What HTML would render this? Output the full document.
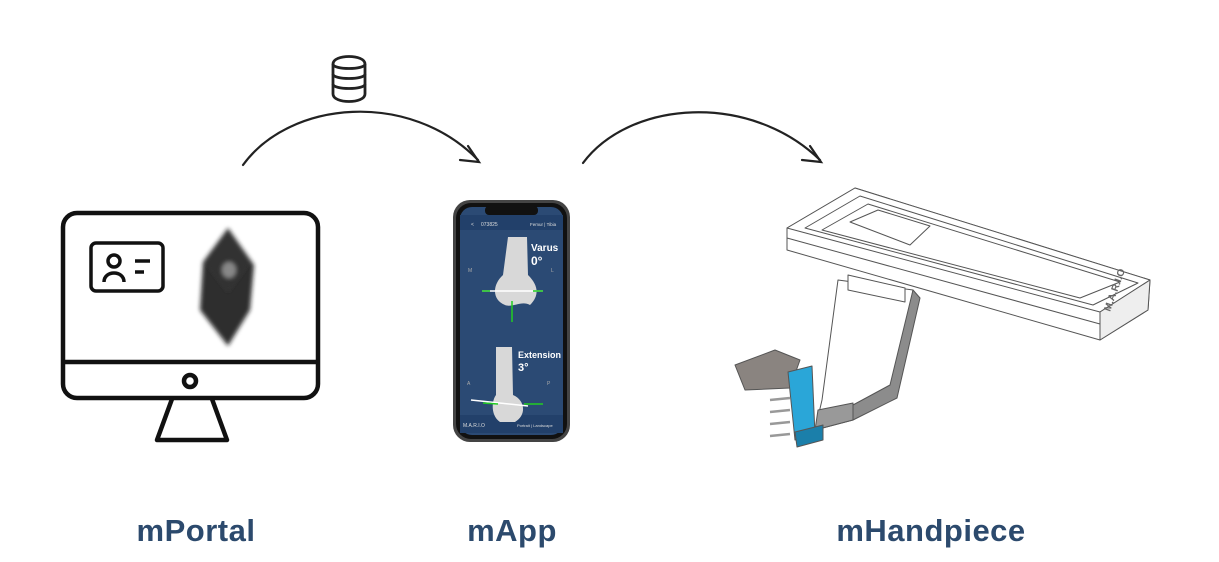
<!DOCTYPE html>
<html><head><meta charset="utf-8"><style>
html,body{margin:0;padding:0;background:#fff;}
body{width:1219px;height:562px;position:relative;overflow:hidden;font-family:"Liberation Sans",sans-serif;}
.lbl{position:absolute;top:513px;font-size:31px;font-weight:bold;color:#2c4a6d;letter-spacing:0.5px;transform:translateX(-50%);white-space:nowrap;}
</style></head><body>
<svg width="1219" height="562" style="position:absolute;left:0;top:0">
<defs>
<filter id="bl"><feGaussianBlur stdDeviation="2"/></filter>
</defs>
<g fill="none" stroke="#222" stroke-width="2.2" stroke-linecap="round">
<path d="M243,165 C290,100 410,90 478,160"/>
<path d="M468,146 L479,162 L460,160"/>
<path d="M583,163 C630,100 750,92 820,160"/>
<path d="M810,146 L821,162 L802,160"/>
</g>
<g fill="#fff" stroke="#222" stroke-width="2.8">
<path d="M333,64 C333,54 365,54 365,64 L365,94 C365,104 333,104 333,94 Z"/>
<path d="M333,74 C333,80 365,80 365,74" fill="none"/>
<path d="M333,84 C333,90 365,90 365,84" fill="none"/>
<path d="M333,64 C333,70 365,70 365,64" fill="none"/>
</g>
<g fill="none" stroke="#111" stroke-width="4.5" stroke-linejoin="round">
<rect x="63" y="213" width="255" height="185" rx="14"/>
<line x1="63" y1="362" x2="318" y2="362"/>
<circle cx="190" cy="381" r="6"/>
<path d="M172,399 L157,440 L227,440 L212,399"/>
<rect x="91" y="243" width="72" height="48" rx="5" stroke-width="3.5"/>
<circle cx="114" cy="261" r="6" stroke-width="3.5"/>
<path d="M104,282 C104,270 124,270 124,282" stroke-width="3.5"/>
<line x1="135" y1="261" x2="150" y2="261" stroke-width="3.5"/>
<line x1="135" y1="272" x2="144" y2="272" stroke-width="3.5"/>
</g>
<g filter="url(#bl)">
<polygon points="228,228 254,265 250,310 228,346 200,310 203,262" fill="#1a1a1a" opacity="0.9"/>
<polygon points="228,232 250,262 228,292 205,262" fill="#333"/>
<ellipse cx="229" cy="270" rx="7" ry="8" fill="#888"/>
</g>
<rect x="453" y="200" width="117" height="242" rx="17" fill="#444"/>
<rect x="456" y="203" width="111" height="236" rx="15" fill="#111"/>
<rect x="460" y="207" width="103" height="228" rx="12" fill="#2b4a74"/>
<rect x="485" y="206" width="53" height="9" rx="4" fill="#111"/>
<rect x="460" y="215" width="103" height="15" fill="#22406a"/>
<text x="471" y="226" font-size="5" fill="#ddd">&lt;</text>
<text x="481" y="226" font-size="5" fill="#ddd">073825</text>
<text x="530" y="226" font-size="4.5" fill="#ddd">Femur | Tibia</text>
<rect x="460" y="415" width="103" height="18" fill="#22406a"/>
<text x="463" y="427" font-size="5" fill="#ddd">M.A.R.I.O</text>
<text x="517" y="427" font-size="4" fill="#ddd">Portrait | Landscape</text>
<path d="M508,237 L527,237 L528,275 C538,285 540,295 530,305 C522,300 512,308 505,305 C492,300 492,285 503,275 Z" fill="#d8d8d8"/>
<line x1="482" y1="291" x2="543" y2="291" stroke="#fff" stroke-width="1.5"/>
<line x1="482" y1="291" x2="490" y2="291" stroke="#2c2" stroke-width="1.5"/>
<line x1="533" y1="291" x2="543" y2="291" stroke="#2c2" stroke-width="1.5"/>
<line x1="512" y1="301" x2="512" y2="322" stroke="#2c2" stroke-width="1.5"/>
<text x="531" y="251" font-size="10" font-weight="bold" fill="#fff">Varus</text>
<text x="531" y="265" font-size="12" font-weight="bold" fill="#fff">0°</text>
<text x="468" y="272" font-size="5" fill="#aaa">M</text>
<text x="551" y="272" font-size="5" fill="#aaa">L</text>
<path d="M496,347 L512,347 L513,395 C525,400 527,415 515,422 L500,422 C490,415 492,400 496,395 Z" fill="#d8d8d8"/>
<line x1="471" y1="400" x2="528" y2="406" stroke="#fff" stroke-width="1.5"/>
<line x1="483" y1="403" x2="498" y2="404" stroke="#2c2" stroke-width="1.5"/>
<line x1="524" y1="404" x2="543" y2="404" stroke="#2c2" stroke-width="1.5"/>
<text x="518" y="358" font-size="9" font-weight="bold" fill="#fff">Extension</text>
<text x="518" y="371" font-size="11" font-weight="bold" fill="#fff">3°</text>
<text x="467" y="385" font-size="5" fill="#aaa">A</text>
<text x="547" y="385" font-size="5" fill="#aaa">P</text>
<g stroke="#555" stroke-width="1" stroke-linejoin="round">
<polygon points="838,280 913,290 895,395 853,420 815,430 822,400" fill="#fff"/>
<polygon points="913,290 920,298 897,398 853,420 853,405 890,385" fill="#8c8c8c"/>
<polygon points="818,410 853,403 853,420 815,430" fill="#999"/>
<polygon points="848,275 905,288 905,302 848,290" fill="#fff"/>
<polygon points="787,228 855,188 1150,280 1148,310 1100,340 787,250" fill="#fff"/>
<polygon points="787,228 855,188 1150,280 1100,312" fill="#fff"/>
<polygon points="1100,312 1150,280 1148,310 1100,340" fill="#eee"/>
<polygon points="805,228 860,196 1138,283 1093,305" fill="none"/>
<polygon points="822,230 868,204 1120,282 1080,298" fill="none"/>
<polygon points="850,222 878,210 930,226 910,245" fill="none"/>
<line x1="787" y1="238" x2="1100" y2="324"/>
<polygon points="735,365 775,350 800,360 790,388 745,390" fill="#8a8480"/>
<polygon points="788,372 812,366 815,435 795,440" fill="#2aa6d8"/>
<polygon points="795,432 823,425 823,440 797,447" fill="#1b7faa"/>
</g>
<g stroke="#999" stroke-width="2.5">
<line x1="770" y1="400" x2="790" y2="398"/><line x1="770" y1="412" x2="790" y2="410"/>
<line x1="770" y1="424" x2="790" y2="422"/><line x1="770" y1="436" x2="790" y2="434"/>
</g>
<text x="1110" y="312" font-size="10" font-weight="bold" fill="#666" transform="rotate(-70 1110 312)">M.A.R.I.O</text>
</svg>
<div class="lbl" style="left:196px">mPortal</div>
<div class="lbl" style="left:512px">mApp</div>
<div class="lbl" style="left:931px">mHandpiece</div>
</body></html>
